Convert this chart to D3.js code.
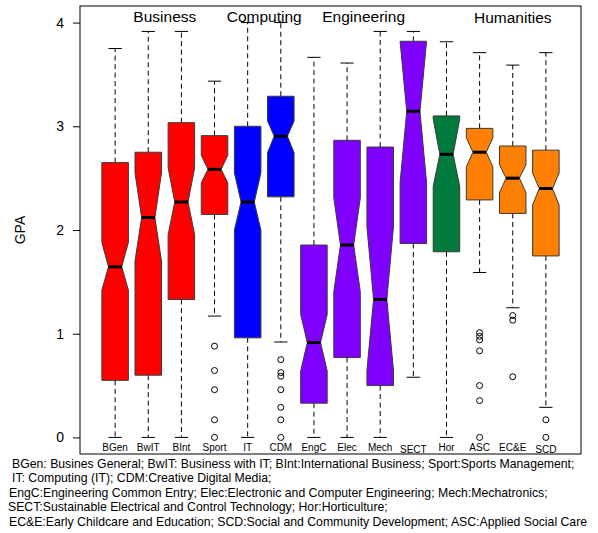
<!DOCTYPE html>
<html>
<head>
<meta charset="utf-8">
<script src="https://cdn.jsdelivr.net/npm/d3@7"></script>
<style>
  body { margin: 0; background: #fff; }
  svg { display: block; font-family: "Liberation Sans", Arial, sans-serif; }
</style>
</head>
<body>
<svg class="chart" width="598" height="533"></svg>
<script>
// programme codes along the x axis
const categories = ['BGen', 'BwIT', 'BInt', 'Sport', 'IT', 'CDM', 'EngC', 'Elec', 'Mech', 'SECT', 'Hor', 'ASC', 'EC&E', 'SCD'];
// faculty of each programme
const groupOf = ['Business', 'Business', 'Business', 'Business', 'Computing', 'Computing',
  'Engineering', 'Engineering', 'Engineering', 'Engineering', 'Horticulture', 'Humanities', 'Humanities', 'Humanities'];

// five number summaries
const whiskerLo = [0, 0, 0, 1.17, 0, 0.92, 0, 0, 0, 0.58, 0, 1.59, 1.25, 0.29];
const q1 = [0.55, 0.6, 1.33, 2.15, 0.96, 2.32, 0.33, 0.77, 0.5, 1.87, 1.79, 2.29, 2.16, 1.75];
const median = [1.645, 2.12, 2.27, 2.585, 2.27, 2.905, 0.915, 1.855, 1.33, 3.145, 2.73, 2.75, 2.5, 2.4];
const q3 = [2.65, 2.75, 3.035, 2.91, 3.0, 3.29, 1.855, 2.865, 2.8, 3.82, 3.1, 2.98, 2.81, 2.77];
const whiskerHi = [3.75, 3.915, 3.915, 3.435, 4.0, 4.0, 3.665, 3.61, 3.915, 3.915, 3.815, 3.71, 3.59, 3.71];
// notch ends
const notchLo = [1.42, 1.7, 1.955, 2.455, 2.0, 2.745, 0.64, 1.405, 0.65, 2.455, 2.42, 2.61, 2.36, 2.24];
const notchHi = [1.88, 2.55, 2.6, 2.72, 2.55, 3.05, 1.185, 2.31, 2.03, 3.82, 3.07, 2.89, 2.63, 2.55];
// outliers per programme
const outliers = [
  [], [], [],
  [0.88, 0.645, 0.46, 0.17, 0],
  [],
  [0.75, 0.625, 0.59, 0.46, 0.29, 0.17, 0],
  [], [], [], [], [],
  [1.01, 0.975, 0.94, 0.835, 0.5, 0.355, 0],
  [1.175, 1.13, 0.585],
  [0.17, 0]
];

const groupColor = {
  Business: '#ff0000',
  Computing: '#0000ff',
  Engineering: '#7f00ff',
  Horticulture: '#007a3d',
  Humanities: '#ff7f00'
};

// faculty titles at the top of the frame
const groupLabels = ['Business', 'Computing', 'Engineering', 'Humanities'];
const groupLabelAt = [2.5, 5.5, 8.5, 13];

const yTicks = [0, 1, 2, 3, 4];

const captionLines = [
  'BGen: Busines General; BwIT: Business with IT; BInt:International Business; Sport:Sports Management;',
  'IT: Computing (IT); CDM:Creative Digital Media;',
  'EngC:Engineering Common Entry; Elec:Electronic and Computer Engineering; Mech:Mechatronics;',
  'SECT:Sustainable Electrical and Control Technology; Hor:Horticulture;',
  'EC&E:Early Childcare and Education; SCD:Social and Community Development; ASC:Applied Social Care'
];

const svg = d3.select('.chart');
const margin = { top: 6, right: 17, bottom: 79, left: 80 };
const width = +svg.attr('width');
const height = +svg.attr('height');
const innerWidth = width - margin.left - margin.right;
const innerHeight = height - margin.top - margin.bottom;

const boxes = categories.map((c, i) => ({
  name: c, group: groupOf[i], lo: whiskerLo[i], q1: q1[i], med: median[i], q3: q3[i],
  hi: whiskerHi[i], nLo: notchLo[i], nHi: notchHi[i], out: outliers[i]
}));

const xScale = d3.scaleBand()
  .domain(categories)
  .range([0, innerWidth])
  .paddingInner(0.2)
  .paddingOuter(0.66);

// position index -> x, used for the faculty titles
const xPos = d3.scaleLinear()
  .domain([1, categories.length])
  .range([xScale(categories[0]) + xScale.bandwidth() / 2,
          xScale(categories[categories.length - 1]) + xScale.bandwidth() / 2]);

const yScale = d3.scaleLinear()
  .domain([-0.16, 4.16])
  .range([innerHeight, 0]);

const g = svg.append('g')
  .attr('transform', `translate(${margin.left}, ${margin.top})`);

// y axis
const yAxis = g.append('g')
  .call(d3.axisLeft(yScale).tickValues(yTicks).tickSize(7).tickPadding(9).tickFormat(d3.format('d')));
yAxis.select('.domain').remove();
yAxis.selectAll('.tick line').attr('stroke', '#000');
yAxis.selectAll('.tick text')
  .attr('fill', '#000')
  .style('font-family', '"Liberation Sans", Arial, sans-serif')
  .style('font-size', '14px');

svg.append('text')
  .attr('transform', `translate(25, ${margin.top + yScale(2)}) rotate(-90)`)
  .attr('text-anchor', 'middle')
  .style('font-size', '14px')
  .text('GPA');

const hw = xScale.bandwidth() / 2;
const wntch = hw / 2;

const box = g.selectAll('.box')
  .data(boxes)
  .join('g')
  .attr('class', 'box')
  .attr('transform', d => `translate(${xScale(d.name) + hw}, 0)`);

// whiskers
box.append('line')
  .attr('y1', d => yScale(d.q3)).attr('y2', d => yScale(d.hi))
  .attr('stroke', '#000').attr('stroke-dasharray', '5,3.5');
box.append('line')
  .attr('y1', d => yScale(d.q1)).attr('y2', d => yScale(d.lo))
  .attr('stroke', '#000').attr('stroke-dasharray', '5,3.5');
// staples
box.selectAll('.staple')
  .data(d => [d.lo, d.hi])
  .join('line')
  .attr('x1', -hw / 2).attr('x2', hw / 2)
  .attr('y1', d => yScale(d)).attr('y2', d => yScale(d))
  .attr('stroke', '#000');

// notched box, same outline order as R's bxp
box.append('path')
  .attr('d', d => {
    const xs = [-hw, -hw, -wntch, -hw, -hw, hw, hw, wntch, hw, hw];
    const ys = [d.q1, d.nLo, d.med, d.nHi, d.q3, d.q3, d.nHi, d.med, d.nLo, d.q1];
    return d3.line()(xs.map((x, i) => [x, yScale(ys[i])])) + 'Z';
  })
  .attr('fill', d => groupColor[d.group])
  .attr('stroke', '#3a3a3a')
  .attr('stroke-width', 1);

// medians
box.append('line')
  .attr('x1', -wntch).attr('x2', wntch)
  .attr('y1', d => yScale(d.med)).attr('y2', d => yScale(d.med))
  .attr('stroke', '#000').attr('stroke-width', 3);

// outliers
box.selectAll('circle')
  .data(d => d.out)
  .join('circle')
  .attr('cy', d => yScale(d))
  .attr('r', 3)
  .attr('fill', 'none')
  .attr('stroke', '#000');

// programme labels inside the frame bottom
g.selectAll('.xlab')
  .data(boxes)
  .join('text')
  .attr('class', 'xlab')
  .attr('x', d => xScale(d.name) + hw)
  .attr('y', d => innerHeight - (d.name === 'SECT' || d.name === 'SCD' ? 1 : 3.5))
  .attr('text-anchor', 'middle')
  .style('font-size', '10px')
  .text(d => d.name);

// faculty titles
g.selectAll('.glab')
  .data(groupLabels)
  .join('text')
  .attr('class', 'glab')
  .attr('x', (d, i) => xPos(groupLabelAt[i]))
  .attr('y', d => d === 'Humanities' ? 17 : 15.7)
  .attr('text-anchor', 'middle')
  .style('font-size', '15.5px')
  .text(d => d);

// frame
g.append('rect')
  .attr('width', innerWidth).attr('height', innerHeight)
  .attr('fill', 'none').attr('stroke', '#000');

// caption, sized so the first line spans like the original
const captionX = [12, 12, 9, 8, 9];
const caption = svg.selectAll('.caption')
  .data(captionLines)
  .join('text')
  .attr('class', 'caption')
  .attr('x', (d, i) => captionX[i])
  .attr('y', (d, i) => 467.5 + i * 14.6)
  .style('font-size', '13px')
  .text(d => d);
const firstLen = caption.node().getComputedTextLength();
caption.style('font-size', (13 * 563 / firstLen) + 'px');
</script>
</body>
</html>
